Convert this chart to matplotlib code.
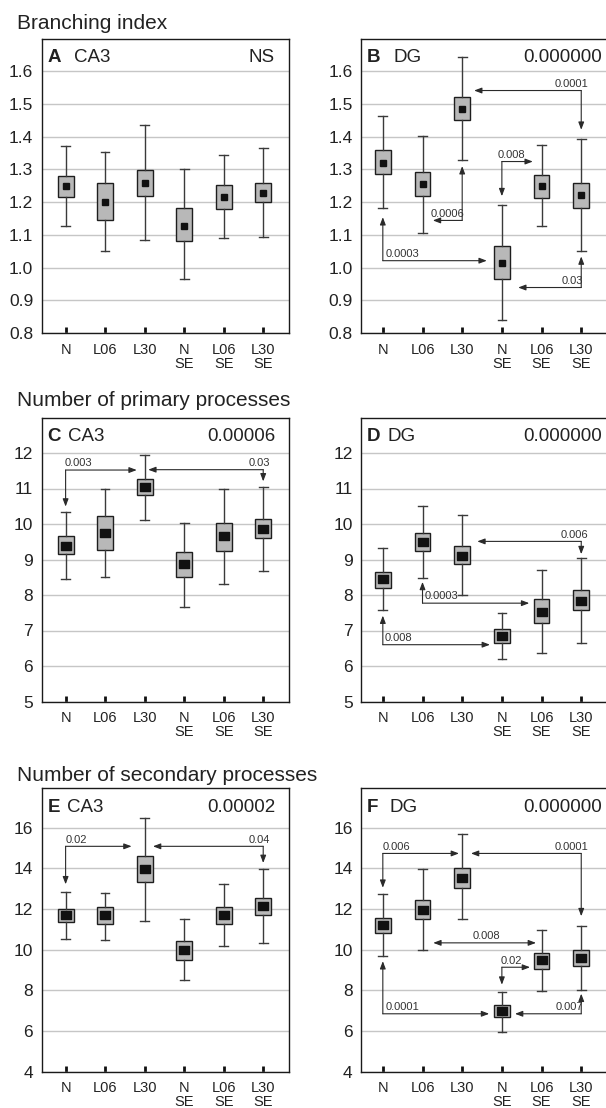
import matplotlib
matplotlib.use("Agg")
import matplotlib.pyplot as plt
from matplotlib.path import Path

plt.rcParams["font.family"] = ["Liberation Sans", "DejaVu Sans"]

groups = ["N", "L06", "L30", "N\nSE", "L06\nSE", "L30\nSE"]

# A - branching index, CA3
a_lo = [1.126, 1.052, 1.085, 0.966, 1.089, 1.092]
a_q1 = [1.216, 1.146, 1.218, 1.080, 1.179, 1.199]
a_mid = [1.249, 1.200, 1.259, 1.128, 1.216, 1.228]
a_q3 = [1.280, 1.259, 1.298, 1.182, 1.253, 1.259]
a_hi = [1.372, 1.352, 1.436, 1.300, 1.344, 1.364]

# B - branching index, DG
b_lo = [1.182, 1.105, 1.328, 0.839, 1.127, 1.050]
b_q1 = [1.286, 1.219, 1.450, 0.964, 1.213, 1.182]
b_mid = [1.320, 1.255, 1.486, 1.013, 1.249, 1.221]
b_q3 = [1.359, 1.291, 1.522, 1.067, 1.284, 1.259]
b_hi = [1.462, 1.402, 1.643, 1.191, 1.375, 1.393]

# C - primary processes, CA3
c_lo = [8.44, 8.52, 10.11, 7.67, 8.30, 8.69]
c_q1 = [9.15, 9.27, 10.82, 8.50, 9.24, 9.61]
c_mid = [9.39, 9.76, 11.04, 8.86, 9.65, 9.86]
c_q3 = [9.65, 10.23, 11.27, 9.22, 10.02, 10.14]
c_hi = [10.33, 10.98, 11.94, 10.02, 10.98, 11.04]

# D - primary processes, DG
d_lo = [7.58, 8.49, 7.99, 6.21, 6.37, 6.65]
d_q1 = [8.21, 9.25, 8.86, 6.64, 7.22, 7.58]
d_mid = [8.44, 9.49, 9.11, 6.85, 7.52, 7.84]
d_q3 = [8.66, 9.75, 9.39, 7.05, 7.90, 8.13]
d_hi = [9.31, 10.50, 10.25, 7.48, 8.71, 9.05]

# E - secondary processes, CA3
e_lo = [10.54, 10.49, 11.39, 8.48, 10.16, 10.32]
e_q1 = [11.37, 11.24, 13.33, 9.50, 11.24, 11.68]
e_mid = [11.68, 11.68, 13.95, 9.96, 11.68, 12.13]
e_q3 = [12.00, 12.10, 14.59, 10.42, 12.10, 12.55]
e_hi = [12.83, 12.78, 16.48, 11.52, 13.24, 13.98]

# F - secondary processes, DG
f_lo = [9.67, 10.00, 11.48, 5.96, 7.95, 7.99]
f_q1 = [10.82, 11.48, 13.04, 6.66, 9.05, 9.21]
f_mid = [11.20, 11.94, 13.53, 6.96, 9.47, 9.57]
f_q3 = [11.56, 12.42, 14.03, 7.26, 9.84, 9.97]
f_hi = [12.71, 13.95, 15.67, 7.90, 10.94, 11.15]

# overall p values
p_overall = ["NS", "0.000000", "0.00006", "0.000000", "0.00002", "0.000000"]

# pairwise comparisons: (x of vertical leg, vertical tip y, horizontal y, horizontal tip x, p, text x, align)
# vertical tip y of None -> plain double headed horizontal arrow
a_comps = []
b_comps = [
    (5, 1.421, 1.541, 2.30, "0.0001", 5.17, "right"),
    (3, 1.218, 1.324, 3.78, "0.008", 2.90, "left"),
    (2, 1.310, 1.144, 1.26, "0.0006", 1.20, "left"),
    (0, 1.154, 1.021, 2.62, "0.0003", 0.07, "left"),
    (5, 1.034, 0.939, 3.41, "0.03", 5.05, "right"),
]
c_comps = [
    (0, 10.49, 11.52, 1.80, "0.003", -0.02, "left"),
    (5, 11.20, 11.53, 2.09, "0.03", 5.17, "right"),
]
d_comps = [
    (5, 9.15, 9.51, 2.38, "0.006", 5.17, "right"),
    (1, 8.37, 7.77, 3.69, "0.0003", 1.05, "left"),
    (0, 7.42, 6.60, 2.70, "0.008", 0.05, "left"),
]
e_comps = [
    (0, 13.21, 15.08, 1.67, "0.02", 0.0, "left"),
    (5, 14.26, 15.08, 2.21, "0.04", 5.17, "right"),
]
f_comps = [
    (0, 13.04, 14.73, 1.92, "0.006", 0.0, "left"),
    (5, 11.64, 14.73, 2.22, "0.0001", 5.17, "right"),
    (1.27, None, 10.33, 3.86, "0.008", 2.60, "center"),
    (3, 8.27, 9.13, 3.71, "0.02", 2.97, "left"),
    (0, 9.43, 6.84, 2.68, "0.0001", 0.07, "left"),
    (5, 7.83, 6.84, 3.33, "0.007", 5.05, "right"),
]

row_titles = ["Branching index", "Number of primary processes", "Number of secondary processes"]

W, H = 606, 1108
fig = plt.figure(figsize=(W / 100, H / 100), dpi=100)

# column geometry in pixels: left edge, width, x limits (right column runs off the page)
cols = [(41.5, 247, (-0.61, 5.64)), (361, 250, (-0.55, 5.75))]
rows = [(38.5, 333), (417.5, 701.5), (788, 1071.5)]
title_base = [29, 406, 781]
right_text_px = [275, 602]

ylims = [(0.8, 1.70), (5, 13.0), (4, 17.95)]
yticks = [[0.8 + 0.1 * i for i in range(9)], list(range(5, 13)), list(range(4, 17, 2))]
yfmt = ["{:.1f}", "{:d}", "{:d}"]

rect_marker = Path([(-1.3, -1), (1.3, -1), (1.3, 1), (-1.3, 1), (-1.3, -1)],
                   [Path.MOVETO, Path.LINETO, Path.LINETO, Path.LINETO, Path.CLOSEPOLY])

# letter, region, data, comparisons, gap (px) between panel letter and region name
panels = [
    ("A", "CA3", a_lo, a_q1, a_mid, a_q3, a_hi, a_comps, 13),
    ("B", "DG", b_lo, b_q1, b_mid, b_q3, b_hi, b_comps, 13),
    ("C", "CA3", c_lo, c_q1, c_mid, c_q3, c_hi, c_comps, 7),
    ("D", "DG", d_lo, d_q1, d_mid, d_q3, d_hi, d_comps, 6.5),
    ("E", "CA3", e_lo, e_q1, e_mid, e_q3, e_hi, e_comps, 6.5),
    ("F", "DG", f_lo, f_q1, f_mid, f_q3, f_hi, f_comps, 11.5),
]

line_col = "#2a2a2a"
arrow_kw = dict(arrowstyle="-|>,head_length=0.45,head_width=0.17", color=line_col,
                lw=0.8, shrinkA=0, shrinkB=0, mutation_scale=10)

for i, (letter, region, lo, q1, mid, q3, hi, comps, gap) in enumerate(panels):
    r, c = divmod(i, 2)
    top, bot = rows[r]
    left, width, xlim = cols[c]
    ax = fig.add_axes([left / W, 1 - bot / H, width / W, (bot - top) / H])

    stats = [dict(med=m, q1=a, q3=b, whislo=l, whishi=h, mean=m, fliers=[])
             for l, a, m, b, h in zip(lo, q1, mid, q3, hi)]
    if r == 0:
        mprops = dict(marker="s", markersize=4.4, markerfacecolor="#111", markeredgecolor="#111")
    else:
        mprops = dict(marker=rect_marker, markersize=6.8, markerfacecolor="#111", markeredgecolor="#111")
    ax.bxp(stats, positions=range(6), widths=0.4, patch_artist=True, showmeans=True,
           capwidths=0.22,
           boxprops=dict(facecolor="#b8b8b8", edgecolor="#1e1e1e", lw=1.0),
           whiskerprops=dict(color="#3a3a3a", lw=1.0),
           capprops=dict(color="#3a3a3a", lw=1.0),
           medianprops=dict(lw=0),
           meanprops=mprops)

    for xv, yv, yh, xh, p, tx, ha in comps:
        if yv is None:
            ax.annotate("", xy=(xh, yh), xytext=(xv, yh),
                        arrowprops=dict(arrow_kw, arrowstyle="<|-|>,head_length=0.45,head_width=0.17"))
        else:
            ax.annotate("", xy=(xv, yv), xytext=(xv, yh), arrowprops=arrow_kw)
            ax.annotate("", xy=(xh, yh), xytext=(xv, yh), arrowprops=arrow_kw)
        ax.annotate(p, (tx, yh), xytext=(0, 1.2), textcoords="offset points",
                    ha=ha, va="bottom", fontsize=8, color="#333")

    ax.set_xlim(*xlim)
    ax.set_ylim(*ylims[r])
    ax.set_yticks(yticks[r])
    ax.set_yticklabels([yfmt[r].format(v) for v in yticks[r]])
    ax.set_xticks(range(6))
    ax.set_xticklabels(groups, fontsize=10.5, linespacing=1.0, color="#222")
    ax.tick_params(axis="x", direction="in", length=4, width=2, color="#111", pad=7)
    ax.tick_params(axis="y", length=0, pad=6, labelsize=12.5, labelcolor="#222")
    ax.yaxis.grid(True, color="#c6c6c6", lw=1.0)
    ax.set_axisbelow(True)
    for s in ax.spines.values():
        s.set_color("#1a1a1a")
        s.set_linewidth(1.0)

    ty = 1 - 19 / (bot - top)
    lt = ax.text(6 / width, ty, letter, transform=ax.transAxes,
                 fontsize=13.5, fontweight="bold", va="center", ha="left", color="#222")
    ax.annotate(region, xy=(1, 0.5), xycoords=lt, xytext=(gap * 0.72, 0),
                textcoords="offset points", fontsize=13.5, va="center", ha="left", color="#222")
    ax.text((right_text_px[c] - left) / width, ty, p_overall[i], transform=ax.transAxes,
            fontsize=13.5, va="center", ha="right", color="#222")

for t, yb in zip(row_titles, title_base):
    fig.text(17 / W, 1 - yb / H, t, fontsize=15, va="baseline", ha="left", color="#222")

fig.savefig("out.png", dpi=100)
